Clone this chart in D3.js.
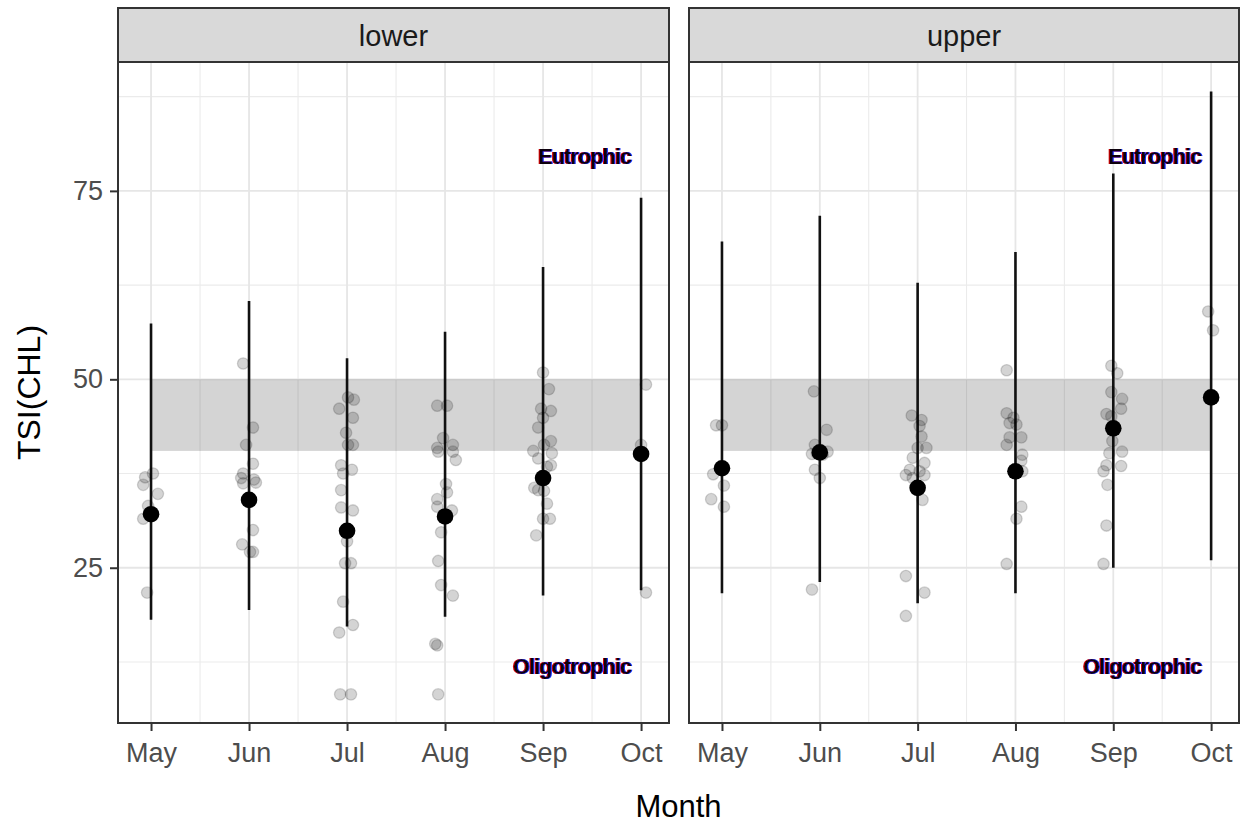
<!DOCTYPE html>
<html>
<head>
<meta charset="utf-8">
<script src="https://cdn.jsdelivr.net/npm/d3@7"></script>
<style>
  html, body { margin: 0; padding: 0; background: #ffffff; }
  svg { display: block; font-family: "Liberation Sans", Arial, sans-serif; }
</style>
</head>
<body>
<svg id="chart" width="1241" height="824"></svg>
<script>
// ---- data -------------------------------------------------------------
const monthNums   = [5, 6, 7, 8, 9, 10];
const monthLabels = ["May", "Jun", "Jul", "Aug", "Sep", "Oct"];
const sites       = ["lower", "upper"];
const yTicks      = [25, 50, 75];

// monthly summaries: mean with lower / upper whisker
const meanLower = [32.1, 34.0, 29.9, 31.8, 36.9, 40.1];
const loLower   = [18.1, 19.4, 17.2, 18.5, 21.3, 22.0];
const hiLower   = [57.4, 60.4, 52.8, 56.3, 64.9, 74.1];
const meanUpper = [38.2, 40.3, 35.6, 37.8, 43.5, 47.6];
const loUpper   = [21.6, 23.1, 20.3, 21.6, 25.0, 26.0];
const hiUpper   = [68.3, 71.7, 62.8, 66.9, 77.3, 88.2];

// individual samples: [jittered month, TSI]
const ptsLower = [
  [4.94,37.0],[5.02,37.5],[4.92,36.0],[5.07,34.8],[4.97,33.2],[4.92,31.5],[4.96,21.7],
  [5.94,52.1],[6.04,43.6],[5.97,41.3],[6.04,38.8],[5.94,37.5],[5.92,36.9],[6.05,36.7],
  [5.94,36.2],[6.07,36.3],[6.04,30.0],[5.93,28.1],[6.01,27.1],[6.04,27.1],
  [7.01,47.6],[7.07,47.3],[6.92,46.1],[7.06,44.9],[6.99,42.9],[7.01,41.3],[7.06,41.3],
  [6.94,38.6],[6.96,37.5],[7.05,38.0],[6.94,35.3],[6.94,33.0],[7.06,32.6],[7.00,28.5],
  [6.98,25.6],[7.04,25.6],[6.96,20.5],[7.06,17.4],[6.92,16.4],[6.93,8.2],[7.04,8.2],
  [7.92,46.5],[8.02,46.5],[7.98,42.2],[8.08,41.3],[7.92,40.9],[7.93,40.4],[8.08,40.4],
  [8.11,39.3],[8.01,36.1],[8.02,35.0],[7.92,34.1],[7.92,33.1],[8.07,32.6],[7.96,29.7],
  [7.93,25.9],[7.96,22.7],[8.08,21.3],[7.92,14.7],[7.90,14.9],[7.93,8.2],
  [9.00,50.9],[9.06,48.7],[8.98,46.1],[9.08,45.8],[9.00,44.9],[8.95,43.6],[9.08,41.8],
  [9.01,41.3],[8.90,40.5],[9.09,40.2],[8.95,39.5],[9.08,38.6],[9.04,38.4],[8.91,35.6],
  [8.95,35.3],[9.01,35.2],[9.04,33.5],[9.00,31.5],[9.07,31.5],[8.93,29.3],
  [10.05,49.3],[10.00,41.3],[10.05,21.7]
];
const ptsUpper = [
  [4.94,43.9],[5.00,43.9],[4.91,37.4],[5.02,35.9],[4.89,34.1],[5.02,33.1],
  [5.94,48.4],[6.07,43.3],[5.95,41.3],[5.92,40.1],[5.97,40.2],[6.08,40.4],[6.03,40.0],
  [5.95,38.0],[6.00,36.9],[5.92,22.1],
  [6.94,45.2],[7.04,44.6],[7.02,43.8],[7.04,42.4],[7.00,40.9],[7.09,40.9],[6.95,39.6],
  [7.07,38.9],[6.92,38.0],[7.02,37.8],[6.88,37.3],[7.07,37.3],[6.95,36.9],[7.05,34.0],
  [6.88,23.9],[7.07,21.7],[6.88,18.6],
  [7.91,51.2],[7.91,45.5],[7.98,44.9],[7.94,44.2],[8.01,44.0],[8.06,42.3],[7.94,42.3],
  [7.91,41.3],[8.07,40.0],[8.06,39.2],[8.07,37.8],[8.06,33.1],[8.01,31.5],[7.91,25.5],
  [8.98,51.8],[9.04,50.8],[8.98,48.3],[9.09,47.4],[9.08,46.1],[8.93,45.4],[8.98,45.1],
  [8.99,41.8],[9.09,40.4],[8.96,40.2],[8.93,38.6],[9.08,38.5],[8.90,37.8],[8.94,36.0],
  [8.93,30.6],[8.90,25.5],
  [9.97,59.0],[10.02,56.5]
];

// mesotrophic band and state labels
const bandRange  = [40.5, 50];
const bandMonths = [5, 10];
const stateLabels = ["Eutrophic", "Oligotrophic"];
const stateLabelY = [79.5, 11.8];
const stateLabelX = 9.9;

// ---- layout -----------------------------------------------------------
const svg = d3.select("#chart");
const panelTop = 62, panelBottom = 723, stripTop = 8;
const panels = [
  { name: sites[0], x0: 118, x1: 669, mean: meanLower, lo: loLower, hi: hiLower, pts: ptsLower },
  { name: sites[1], x0: 689, x1: 1239, mean: meanUpper, lo: loUpper, hi: hiUpper, pts: ptsUpper }
];

const y = d3.scaleLinear().domain([4.4, 92.1]).range([panelBottom, panelTop]);

// colour fringe filter for the state labels
const defs = svg.append("defs");
const f = defs.append("filter").attr("id", "fringe")
  .attr("x", "-5%").attr("y", "-20%").attr("width", "110%").attr("height", "140%");
f.append("feOffset").attr("in", "SourceAlpha").attr("dx", -1.2).attr("dy", 0).attr("result", "lOff");
f.append("feFlood").attr("flood-color", "#d00000").attr("result", "redC");
f.append("feComposite").attr("in", "redC").attr("in2", "lOff").attr("operator", "in").attr("result", "red");
f.append("feOffset").attr("in", "SourceAlpha").attr("dx", 1.2).attr("dy", 0).attr("result", "rOff");
f.append("feFlood").attr("flood-color", "#1030ff").attr("result", "blueC");
f.append("feComposite").attr("in", "blueC").attr("in2", "rOff").attr("operator", "in").attr("result", "blue");
const fm = f.append("feMerge");
fm.append("feMergeNode").attr("in", "red");
fm.append("feMergeNode").attr("in", "blue");
fm.append("feMergeNode").attr("in", "SourceGraphic");

panels.forEach((p, pi) => {
  const x = d3.scaleLinear().domain([4.663, 10.285]).range([p.x0, p.x1]);
  const g = svg.append("g");

  // panel background
  g.append("rect").attr("x", p.x0).attr("y", panelTop)
    .attr("width", p.x1 - p.x0).attr("height", panelBottom - panelTop).attr("fill", "#ffffff");

  // minor grid
  const minorX = monthNums.slice(0, -1).map(m => m + 0.5);
  const minorY = [12.5, 37.5, 62.5, 87.5];
  g.selectAll(".gxm").data(minorX).join("line")
    .attr("x1", d => x(d)).attr("x2", d => x(d))
    .attr("y1", panelTop).attr("y2", panelBottom)
    .attr("stroke", "#ebebeb").attr("stroke-width", 1.1);
  g.selectAll(".gym").data(minorY).join("line")
    .attr("x1", p.x0).attr("x2", p.x1)
    .attr("y1", d => y(d)).attr("y2", d => y(d))
    .attr("stroke", "#ebebeb").attr("stroke-width", 1.1);
  // major grid
  g.selectAll(".gx").data(monthNums).join("line")
    .attr("x1", d => x(d)).attr("x2", d => x(d))
    .attr("y1", panelTop).attr("y2", panelBottom)
    .attr("stroke", "#e6e6e6").attr("stroke-width", 1.8);
  g.selectAll(".gy").data(yTicks).join("line")
    .attr("x1", p.x0).attr("x2", p.x1)
    .attr("y1", d => y(d)).attr("y2", d => y(d))
    .attr("stroke", "#e6e6e6").attr("stroke-width", 1.8);

  // mesotrophic band
  g.append("rect")
    .attr("x", x(bandMonths[0])).attr("width", x(bandMonths[1]) - x(bandMonths[0]))
    .attr("y", y(bandRange[1])).attr("height", y(bandRange[0]) - y(bandRange[1]))
    .attr("fill", "#000000").attr("fill-opacity", 0.17);

  // whiskers
  g.selectAll(".wh").data(monthNums).join("line")
    .attr("x1", d => x(d)).attr("x2", d => x(d))
    .attr("y1", (d, i) => y(p.lo[i])).attr("y2", (d, i) => y(p.hi[i]))
    .attr("stroke", "#111111").attr("stroke-width", 2.6);

  // samples
  g.selectAll(".pt").data(p.pts).join("circle")
    .attr("cx", d => x(d[0])).attr("cy", d => y(d[1])).attr("r", 5.7)
    .attr("fill", "#000000").attr("fill-opacity", 0.17)
    .attr("stroke", "#000000").attr("stroke-opacity", 0.16).attr("stroke-width", 1.3);

  // means
  g.selectAll(".mn").data(monthNums).join("circle")
    .attr("cx", d => x(d)).attr("cy", (d, i) => y(p.mean[i])).attr("r", 8.3)
    .attr("fill", "#000000");

  // state labels
  g.selectAll(".lab").data(stateLabels).join("text")
    .attr("x", x(stateLabelX)).attr("y", (d, i) => y(stateLabelY[i]))
    .attr("text-anchor", "end").attr("dominant-baseline", "central")
    .attr("font-size", 21.5).attr("font-weight", "bold").attr("letter-spacing", -0.8)
    .attr("fill", "#0a0508").attr("filter", "url(#fringe)")
    .text(d => d);

  // panel border
  g.append("rect").attr("x", p.x0).attr("y", panelTop)
    .attr("width", p.x1 - p.x0).attr("height", panelBottom - panelTop)
    .attr("fill", "none").attr("stroke", "#333333").attr("stroke-width", 2);

  // strip
  g.append("rect").attr("x", p.x0).attr("y", stripTop)
    .attr("width", p.x1 - p.x0).attr("height", panelTop - stripTop)
    .attr("fill", "#d9d9d9").attr("stroke", "#333333").attr("stroke-width", 2);
  g.append("text").attr("x", (p.x0 + p.x1) / 2).attr("y", (stripTop + panelTop) / 2 + 1)
    .attr("text-anchor", "middle").attr("dominant-baseline", "central")
    .attr("font-size", 29).attr("fill", "#1a1a1a").text(p.name);

  // x axis
  const xAxis = d3.axisBottom(x).tickValues(monthNums)
    .tickFormat((d, i) => monthLabels[i]).tickSize(8).tickPadding(12);
  const ax = svg.append("g").attr("transform", `translate(0,${panelBottom})`).call(xAxis);
  ax.select(".domain").remove();
  ax.selectAll(".tick line").attr("stroke", "#333333").attr("stroke-width", 2);
  ax.selectAll(".tick text").attr("font-size", 27).attr("fill", "#4d4d4d")
    .attr("font-family", "Liberation Sans, Arial, sans-serif");

  // y axis on the first panel only
  if (pi === 0) {
    const yAxis = d3.axisLeft(y).tickValues(yTicks).tickSize(8).tickPadding(7);
    const ay = svg.append("g").attr("transform", `translate(${p.x0},0)`).call(yAxis);
    ay.select(".domain").remove();
    ay.selectAll(".tick line").attr("stroke", "#333333").attr("stroke-width", 2);
    ay.selectAll(".tick text").attr("font-size", 27).attr("fill", "#4d4d4d")
      .attr("font-family", "Liberation Sans, Arial, sans-serif");
  }
});

// axis titles
svg.append("text").attr("x", (118 + 1239) / 2).attr("y", 806)
  .attr("text-anchor", "middle").attr("dominant-baseline", "central")
  .attr("font-size", 31).attr("fill", "#000000").text("Month");
svg.append("text")
  .attr("transform", `translate(29,${(panelTop + panelBottom) / 2}) rotate(-90)`)
  .attr("text-anchor", "middle").attr("dominant-baseline", "central")
  .attr("font-size", 32).attr("fill", "#000000").text("TSI(CHL)");
</script>
</body>
</html>
